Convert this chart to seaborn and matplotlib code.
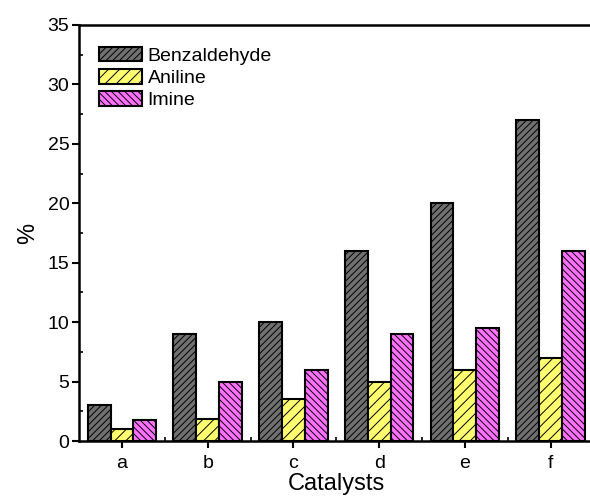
"""Catalyst conversion bar chart."""

import matplotlib

matplotlib.use("Agg")

import matplotlib.pyplot as plt
import pandas as pd
import seaborn as sns
from matplotlib.ticker import MultipleLocator

CATALYSTS = ["a", "b", "c", "d", "e", "f"]
SPECIES = ["Benzaldehyde", "Aniline", "Imine"]
BENZALDEHYDE = [3, 9, 10, 16, 20, 27]
ANILINE = [1, 1.9, 3.5, 5, 6, 7]
IMINE = [1.8, 5, 6, 9, 9.5, 16]

COLORS = ["#707070", "#ffff70", "#ff70ff"]
HATCHES = ["/////", "///", "\\\\\\\\\\"]

sns.set_style("ticks")
plt.rcParams["font.family"] = ["Liberation Sans", "DejaVu Sans"]
plt.rcParams["hatch.linewidth"] = 0.7
plt.rcParams["text.color"] = "black"
plt.rcParams["axes.labelcolor"] = "black"
plt.rcParams["xtick.color"] = "black"
plt.rcParams["ytick.color"] = "black"
plt.rcParams["axes.edgecolor"] = "black"

df = pd.DataFrame(
    {
        "Catalysts": CATALYSTS * 3,
        "Species": [s for s in SPECIES for _ in CATALYSTS],
        "Value": BENZALDEHYDE + ANILINE + IMINE,
    }
)

fig = plt.figure(figsize=(5.9, 4.99), dpi=100)
ax = fig.add_axes([0.134, 0.116, 0.872, 0.834])

sns.barplot(
    data=df,
    x="Catalysts",
    y="Value",
    hue="Species",
    hue_order=SPECIES,
    palette=COLORS,
    saturation=1,
    width=0.8,
    edgecolor="black",
    linewidth=1.5,
    legend=False,
    ax=ax,
)

for container, hatch in zip(ax.containers, HATCHES):
    for bar in container:
        bar.set_hatch(hatch)

ax.legend(
    ax.containers,
    SPECIES,
    loc="upper left",
    bbox_to_anchor=(0.039, 0.948),
    frameon=False,
    fontsize=14,
    handlelength=2.2,
    handleheight=0.8,
    handletextpad=0.3,
    labelspacing=0.2,
    borderaxespad=0.0,
    borderpad=0.0,
)

ax.set_xlim(-0.5, 5.5)
ax.set_ylim(0, 35)
ax.yaxis.set_major_locator(MultipleLocator(5))
ax.yaxis.set_minor_locator(MultipleLocator(2.5))
ax.set_xticks(range(len(CATALYSTS)), minor=False)
ax.set_xticks([i + 0.5 for i in range(len(CATALYSTS) - 1)], minor=True)

ax.tick_params(which="major", direction="out", length=5, width=1.5, labelsize=14, pad=2)
ax.tick_params(axis="x", which="major", pad=5)
ax.tick_params(which="minor", direction="in", length=3, width=1.2)
for side in ["left", "bottom", "top", "right"]:
    ax.spines[side].set_linewidth(1.8)
    ax.spines[side].set_visible(True)

ax.set_xlabel("Catalysts", fontsize=17, labelpad=1)
ax.set_ylabel("%", fontsize=17, labelpad=6)

fig.savefig("out.png", dpi=100)
plt.close()
